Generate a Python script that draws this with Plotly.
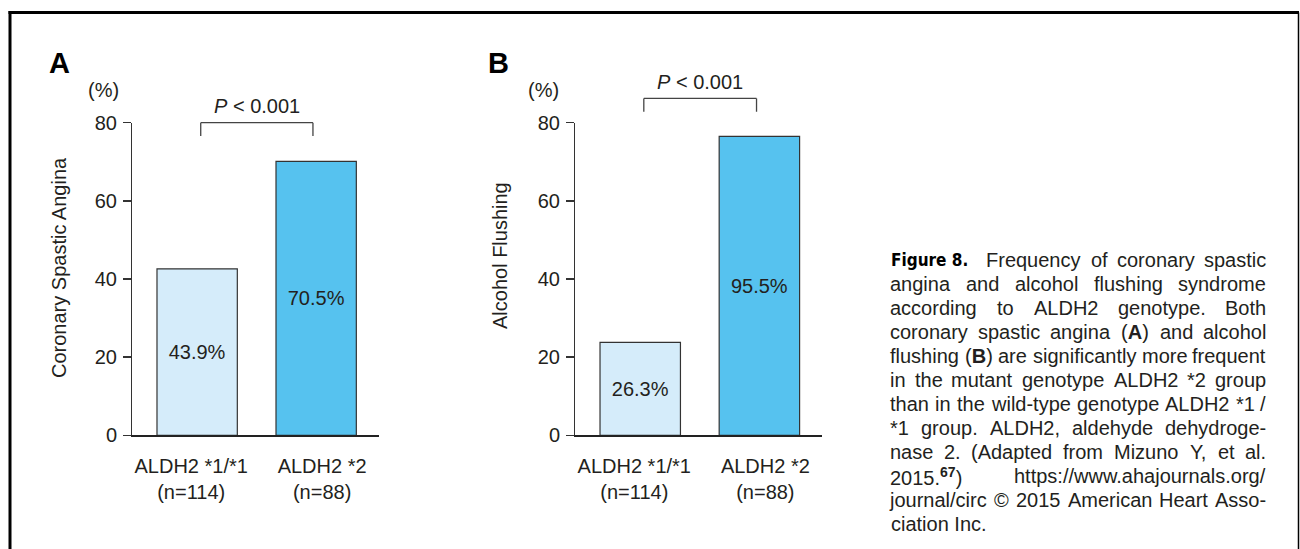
import plotly.graph_objects as go

# ---------------- data ----------------
CATEGORIES = ["ALDH2 *1/*1", "ALDH2 *2"]
GROUP_N = ["(n=114)", "(n=88)"]
CSA_BAR = [42.6, 70.1]            # bar heights as drawn (panel A)
CSA_LABELS = ["43.9%", "70.5%"]
FLUSH_BAR = [23.8, 76.5]          # bar heights as drawn (panel B)
FLUSH_LABELS = ["26.3%", "95.5%"]
Y_TICKS = [0, 20, 40, 60, 80]
P_TEXT = "<i>P</i> < 0.001"
# brackets: [x_left, x_right, top value, foot value, text value]
BRACKET_A = [0.03, 0.973, 80.0, 76.6, 84.2]
BRACKET_B = [0.03, 0.976, 86.2, 82.8, 90.5]

CAPTION_HEAD = "<b>Figure 8.</b>"
CAPTION_LINES = [
    "Frequency of coronary spastic",
    "angina and alcohol flushing syndrome",
    "according to ALDH2 genotype. Both",
    "coronary spastic angina (<b>A</b>) and alcohol",
    "flushing (<b>B</b>) are significantly more frequent",
    "in the mutant genotype ALDH2 *2 group",
    "than in the wild-type genotype ALDH2 *1 /",
    "*1 group. ALDH2, aldehyde dehydroge-",
    "nase 2. (Adapted from Mizuno Y, et al.",
    "2015.<sup><b>67</b></sup>) https://www.ahajournals.org/",
    "journal/circ © 2015 American Heart Asso-",
    "ciation Inc.",
]

# ---------------- style ----------------
W, H = 1300, 549
FONT = "Liberation Sans, Arial, Helvetica, sans-serif"
TXT = "#231f20"
LIGHT = "#d5ecfa"
BLUE = "#56c2ef"
EDGE = "#333333"
FS = 20

def px(x):
    return x / W

def py(y):
    return 1 - y / H

# Arial / Liberation Sans advance widths (1/1000 em)
REG = {' ': 278, '%': 889, '(': 333, ')': 333, '*': 389, ',': 278, '-': 333, '.': 278,
       '/': 278, ':': 278, '<': 584, '=': 584, '©': 737}
for c in "0123456789":
    REG[c] = 556
REG.update(dict(A=667, B=667, C=722, D=722, E=667, F=611, G=778, H=722, I=278, J=500,
                K=667, L=556, M=833, N=722, O=778, P=667, Q=778, R=722, S=667, T=611,
                U=722, V=667, W=944, X=667, Y=667, Z=611))
REG.update(dict(a=556, b=556, c=500, d=556, e=556, f=278, g=556, h=556, i=222, j=222,
                k=500, l=222, m=833, n=556, o=556, p=556, q=556, r=333, s=500, t=278,
                u=556, v=500, w=722, x=500, y=500, z=500))
BOLD = {'A': 722, 'B': 722}


def text_width(html, size):
    i, bold, scale, total = 0, False, 1.0, 0.0
    while i < len(html):
        if html[i] == '<':
            j = html.index('>', i)
            tag = html[i + 1:j]
            if tag == 'b':
                bold = True
            elif tag == '/b':
                bold = False
            elif tag == 'sup':
                scale = 0.7
            elif tag == '/sup':
                scale = 1.0
            i = j + 1
            continue
        ch = html[i]
        wdt = BOLD.get(ch, REG.get(ch, 556)) if bold else REG.get(ch, 556)
        total += wdt * scale
        i += 1
    return total / 1000 * size


fig = go.Figure()

panels = [
    ("x", "y", CSA_BAR, CSA_LABELS),
    ("x2", "y2", FLUSH_BAR, FLUSH_LABELS),
]
for xa, ya, vals, labels in panels:
    fig.add_trace(go.Bar(
        x=list(range(len(CATEGORIES))), y=vals, width=0.675,
        marker=dict(color=[LIGHT, BLUE], line=dict(color=EDGE, width=1.2)),
        text=labels, textposition="inside", insidetextanchor="middle",
        textangle=0, textfont=dict(family=FONT, size=FS, color=TXT),
        xaxis=xa, yaxis=ya, hoverinfo="skip", showlegend=False,
    ))

TICK_SPREAD = 0.05
tickvals = [i + (-TICK_SPREAD if i == 0 else TICK_SPREAD) for i in range(len(CATEGORIES))]
ticktext = [f"{c}<br>{n}" for c, n in zip(CATEGORIES, GROUP_N)]

xcommon = dict(range=[-0.545, 1.528], showgrid=False, zeroline=False, automargin=False,
               showline=True, linecolor="#222", linewidth=1.5,
               tickvals=tickvals, ticktext=ticktext, ticks="", ticklabelstandoff=12,
               tickfont=dict(family=FONT, size=FS, color=TXT), fixedrange=True)
ycommon = dict(range=[0, 80], showgrid=False, zeroline=False, automargin=False,
               showline=True, linecolor=EDGE, linewidth=1.3,
               tickvals=Y_TICKS, ticks="outside", ticklen=8, tickwidth=1.3,
               tickcolor=EDGE, ticklabelstandoff=2,
               tickfont=dict(family=FONT, size=FS, color=TXT), fixedrange=True)
Y_DOMAIN = [py(435.3), py(122.7)]

fig.update_layout(
    width=W, height=H, margin=dict(l=0, r=0, t=0, b=0, pad=0, autoexpand=False),
    paper_bgcolor="white", plot_bgcolor="white", showlegend=False,
    xaxis=dict(domain=[px(132.3), px(379)], anchor="y", **xcommon),
    yaxis=dict(domain=Y_DOMAIN, anchor="x", **ycommon),
    xaxis2=dict(domain=[px(575.3), px(822.3)], anchor="y2", **xcommon),
    yaxis2=dict(domain=Y_DOMAIN, anchor="x2", **ycommon),
    bargap=0,
)

shapes = []
ann = []

# significance brackets + P text
for xa, ya, br in [("x", "y", BRACKET_A), ("x2", "y2", BRACKET_B)]:
    x0, x1, top, foot, ty = br
    ydom = ya + " domain"
    ln = dict(color="#444", width=1.3)
    shapes.append(dict(type="line", xref=xa, yref=ydom, x0=x0, x1=x1,
                       y0=top / 80, y1=top / 80, line=ln))
    shapes.append(dict(type="line", xref=xa, yref=ydom, x0=x0, x1=x0,
                       y0=top / 80, y1=foot / 80, line=ln))
    shapes.append(dict(type="line", xref=xa, yref=ydom, x0=x1, x1=x1,
                       y0=top / 80, y1=foot / 80, line=ln))
    ann.append(dict(text=P_TEXT, xref=xa, yref=ydom, x=(x0 + x1) / 2, y=ty / 80,
                    xanchor="center", yanchor="middle", showarrow=False,
                    font=dict(family=FONT, size=FS, color=TXT)))

# panel letters, units, y titles
for letter, lx, ux, title, tx, tyy in [("A", 59, 103, "Coronary Spastic Angina", 59, 268),
                                       ("B", 498, 543, "Alcohol Flushing", 500, 256)]:
    ann.append(dict(text=f"<b>{letter}</b>", xref="paper", yref="paper", x=px(lx), y=py(63),
                    xanchor="center", yanchor="middle", showarrow=False,
                    font=dict(family=FONT, size=29, color="#000")))
    ann.append(dict(text="(%)", xref="paper", yref="paper", x=px(ux), y=py(90),
                    xanchor="center", yanchor="middle", showarrow=False,
                    font=dict(family=FONT, size=FS, color=TXT)))
    ann.append(dict(text=title, xref="paper", yref="paper", x=px(tx), y=py(tyy),
                    xanchor="center", yanchor="middle", showarrow=False, textangle=-90,
                    font=dict(family=FONT, size=FS, color=TXT)))

# justified caption
CAP_L, CAP_R, CAP_TOP, CAP_STEP = 890, 1266.7, 260, 24
cap_font = dict(family=FONT, size=FS, color=TXT)
ann.append(dict(text=CAPTION_HEAD, xref="paper", yref="paper", x=px(CAP_L - 1), y=py(CAP_TOP),
                xanchor="left", yanchor="middle", showarrow=False,
                font=dict(family="Liberation Sans Narrow, DejaVu Sans Condensed, Arial Narrow, sans-serif",
                          size=17, color="#000")))
for i, line in enumerate(CAPTION_LINES):
    yy = py(CAP_TOP + i * CAP_STEP)
    left = 986.7 if i == 0 else CAP_L
    if i == len(CAPTION_LINES) - 1:
        ann.append(dict(text=line, xref="paper", yref="paper", x=px(left - 1), y=yy,
                        xanchor="left", yanchor="middle", showarrow=False, font=cap_font))
        continue
    words = line.split(" ")
    widths = [text_width(w_, FS) for w_ in words]
    gap = (CAP_R - left - sum(widths)) / (len(words) - 1)
    cur = left
    for k, (wd, wt) in enumerate(zip(words, widths)):
        if k == len(words) - 1:
            ann.append(dict(text=wd, xref="paper", yref="paper", x=px(CAP_R + 1), y=yy,
                            xanchor="right", yanchor="middle", showarrow=False, font=cap_font))
        else:
            ann.append(dict(text=wd, xref="paper", yref="paper", x=px(cur + wt / 2), y=yy,
                            xanchor="center", yanchor="middle", showarrow=False, font=cap_font))
        cur += wt + gap

# frame
shapes.append(dict(type="line", xref="paper", yref="paper", x0=px(10), x1=px(10),
                   y0=py(11), y1=py(549), line=dict(color="#000", width=3)))
shapes.append(dict(type="line", xref="paper", yref="paper", x0=px(8.5), x1=px(1299),
                   y0=py(12.5), y1=py(12.5), line=dict(color="#000", width=3)))
shapes.append(dict(type="line", xref="paper", yref="paper", x0=px(1298.5), x1=px(1298.5),
                   y0=py(12.5), y1=py(549), line=dict(color="#000", width=1.5)))

fig.update_layout(shapes=shapes, annotations=ann)
fig.write_html("out.html", config={"displayModeBar": False, "staticPlot": True},
               post_script="document.body.style.margin='0';document.body.style.overflow='hidden';")
